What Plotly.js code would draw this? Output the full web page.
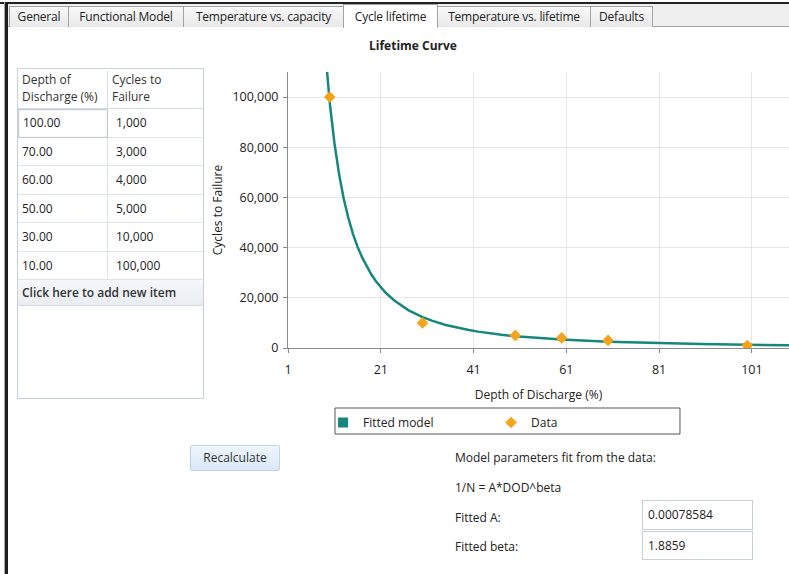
<!DOCTYPE html>
<html><head><meta charset="utf-8">
<script src="https://cdn.plot.ly/plotly-3.0.1.min.js"></script>
<style>
html,body{margin:0;padding:0;background:#fff;width:789px;height:574px;overflow:hidden;font-family:"Open Sans",sans-serif;font-size:12px;color:#222;}
.abs{position:absolute;box-sizing:border-box;}
#topline{left:0;top:2px;width:789px;height:2px;background:#222;}
#leftline{left:4px;top:2px;width:4px;height:572px;background:#1e1e1e;border-left:1px solid #aaa;}
#strip{left:8px;top:4px;width:781px;height:23px;background:#efefef;border-bottom:1px solid #a0a0a0;}
.tab{position:absolute;top:6px;height:21px;line-height:20px;background:linear-gradient(#f9f9f9,#e8e8e8);border:1px solid #a3a3a3;border-bottom:none;box-sizing:border-box;text-align:center;font-size:12px;white-space:nowrap;letter-spacing:-0.2px;}
.tab.sel{top:4px;height:24px;background:#fff;line-height:24px;}
#tbl{left:17px;top:68px;width:187px;height:331px;border:1px solid #c9d2dc;background:#fff;}
.cell{position:absolute;box-sizing:border-box;padding-left:4px;white-space:nowrap;}
.hdr{font-size:12px;line-height:17px;color:#333;}
#btn{left:190px;top:445px;width:90px;height:26px;border:1px solid #c3d3e6;border-radius:2px;background:linear-gradient(#eef5fc,#d9e8f7);text-align:center;line-height:24px;font-size:12px;color:#333;}
.lbl{position:absolute;font-size:12px;color:#222;white-space:nowrap;}
.inp{position:absolute;left:642px;width:111px;height:30px;border:1px solid #c8d0d8;box-sizing:border-box;padding-left:5px;line-height:28px;font-size:12px;color:#222;background:#fff;}
#chart{position:absolute;left:200px;top:30px;width:589px;height:420px;}
</style></head>
<body>
<div id="chart"></div>
<div class="abs" id="topline"></div>
<div class="abs" id="leftline"></div>
<div class="abs" id="strip"></div>
<div id="tabs"></div>
<div class="abs" id="tbl"></div>
<div class="abs" id="btn">Recalculate</div>
<div class="lbl" style="left:455px;top:449px;">Model parameters fit from the data:</div>
<div class="lbl" style="left:455px;top:479px;">1/N = A*DOD^beta</div>
<div class="lbl" style="left:455px;top:509px;">Fitted A:</div>
<div class="lbl" style="left:455px;top:538px;">Fitted beta:</div>
<div class="inp" style="top:500px;">0.00078584</div>
<div class="inp" style="top:531px;height:29px;">1.8859</div>
<script>
// ---- data ----
const tabNames = ["General","Functional Model","Temperature vs. capacity","Cycle lifetime","Temperature vs. lifetime","Defaults"];
const dataDod = [100, 70, 60, 50, 30, 10];
const dataCycles = [1000, 3000, 4000, 5000, 10000, 100000];
const fitDod = [9, 10, 11, 12, 13, 14, 15, 16, 17, 18, 19, 20, 22, 24, 27, 30, 32, 35, 37, 40, 42, 45, 47, 50, 55, 60, 70, 80, 90, 100, 110];
const fitCycles = [119000, 97800, 81800, 69400, 59600, 51900, 45500, 40300, 36000, 32300, 29200, 26500, 22100, 18800, 15000, 12300, 10900, 9200, 8300, 7160, 6530, 5710, 5290, 4700, 3930, 3340, 2490, 1940, 1550, 1270, 1060];
const xTickStart = 1, xTickStep = 20;

// ---- tabs ----
const tabPos = [[9,60],[68,116],[183,161],[343,95],[437,154],[590,63]];
const tabsDiv = document.getElementById('tabs');
tabNames.forEach((n,i)=>{
  const d=document.createElement('div');
  d.className='tab'+(n==='Cycle lifetime'?' sel':'');
  d.style.left=tabPos[i][0]+'px'; d.style.width=tabPos[i][1]+'px';
  d.textContent=n; tabsDiv.appendChild(d);
});

// ---- table ----
const tbl=document.getElementById('tbl');
function cell(x,y,w,h,html,cls,style){
  const c=document.createElement('div'); c.className='cell '+(cls||'');
  c.style.left=x+'px'; c.style.top=y+'px'; c.style.width=w+'px'; c.style.height=h+'px';
  if(style) Object.assign(c.style,style);
  c.innerHTML=html; tbl.appendChild(c); return c;
}
cell(0,2,90,38,'Depth of<br>Discharge (%)','hdr',{borderRight:'1px solid #d6dde6',borderBottom:'1px solid #d6dde6'});
cell(90,2,95,38,'Cycles to<br>Failure','hdr',{borderBottom:'1px solid #d6dde6'});
const rowH=28.5, row0=40;
dataDod.forEach((v,i)=>{
  const y=row0+i*rowH;
  const st={lineHeight:rowH+'px',borderBottom:'1px solid #dfe5ec'};
  const a=cell(0,y,90,rowH,v.toFixed(2),'',Object.assign({borderRight:'1px solid #dfe5ec'},st));
  if(i===0){a.style.border='1px solid #c2cad4';a.style.boxShadow='inset 0 0 2px #ddd';a.style.lineHeight=(rowH-2)+'px';}
  cell(90,y,95,rowH,dataCycles[i].toLocaleString('en-US'),'',Object.assign({paddingLeft:'8px'},st));
});
cell(0,row0+dataDod.length*rowH,185,26,'Click here to add new item','',{lineHeight:'25px',background:'linear-gradient(#f6f8fa,#e9edf2)',borderBottom:'1px solid #d3d9e0',fontWeight:'600',color:'#333'});

// ---- chart ----
const teal='#17877e', orange='#f5a31a';
const traces=[
  {type:'scatter', mode:'markers', x:[null], y:[null], name:'Fitted model', legendgroup:'fit',
   marker:{symbol:'square', size:10, color:teal}, hoverinfo:'skip'},
  {type:'scatter', mode:'lines', x:fitDod, y:fitCycles, name:'Fitted model', showlegend:false, legendgroup:'fit',
   line:{color:teal, width:2.5}},
  {type:'scatter', mode:'markers', x:dataDod, y:dataCycles, name:'Data',
   marker:{symbol:'diamond', size:9, color:orange}}
];
const layout={
  width:589, height:420,
  margin:{l:88, r:0, t:42, b:102},
  paper_bgcolor:'rgba(0,0,0,0)', plot_bgcolor:'#fff',
  font:{family:'"Open Sans", sans-serif', size:12, color:'#222'},
  title:{text:'<b>Lifetime Curve</b>', x:0.3616, xanchor:'center', y:0.962, yanchor:'middle', xref:'container', yref:'container', font:{size:12, color:'#222'}},
  xaxis:{range:[1,109], tickmode:'linear', tick0:xTickStart, dtick:xTickStep, showgrid:true, gridcolor:'#e6e6e6',
    showline:true, linecolor:'#8a8a8a', ticks:'outside', ticklen:4, tickcolor:'#8a8a8a', zeroline:false, ticklabelstandoff:6,
    tickfont:{size:12.5, color:'#222'}, title:{text:'Depth of Discharge (%)', standoff:13, font:{size:12}}},
  yaxis:{range:[0,110000], tickmode:'linear', tick0:0, dtick:20000, tickformat:',', showgrid:true, gridcolor:'#e6e6e6',
    showline:true, linecolor:'#8a8a8a', ticks:'outside', ticklen:4, tickcolor:'#8a8a8a', zeroline:false, ticklabelstandoff:2,
    tickfont:{size:12.5, color:'#222'}, title:{text:'Cycles to Failure', standoff:7, font:{size:12}}},
  showlegend:true,
  legend:{orientation:'h', x:0.07, y:-0.2174, xanchor:'left', yanchor:'top', bgcolor:'rgba(0,0,0,0)', borderwidth:0,
    entrywidth:123, entrywidthmode:'pixels', font:{size:12, color:'#222'}, itemwidth:30, traceorder:'normal'},
  shapes:[{type:'rect', xref:'paper', yref:'paper', x0:0.0938, x1:0.7824, y0:-0.2174, y1:-0.3116,
    line:{color:'#555', width:1}, fillcolor:'rgba(0,0,0,0)'}]
};
Plotly.newPlot('chart', traces, layout, {displayModeBar:false, staticPlot:true});
</script>
</body></html>
